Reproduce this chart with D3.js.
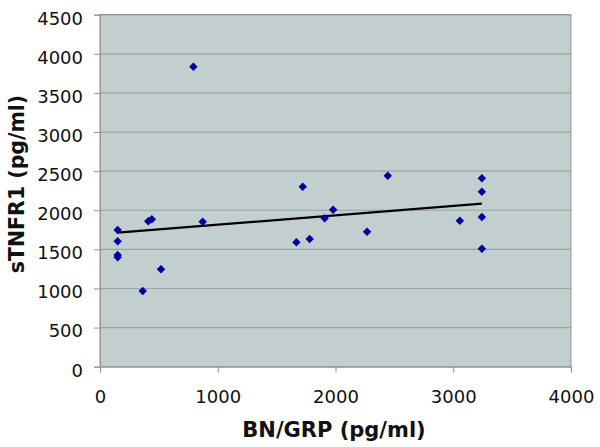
<!DOCTYPE html>
<html><head><meta charset="utf-8">
<script src="https://cdn.jsdelivr.net/npm/d3@7"></script>
<style>body{margin:0;background:#fff}svg{display:block}</style>
</head><body>
<svg id="c" width="600" height="447"></svg>
<script>
const xValues = [793, 1722, 2444, 150, 150, 150, 150, 410, 440, 518, 363, 872, 1668, 1781, 1908, 1980, 2268, 3243, 3243, 3056, 3243, 3243];
const yValues = [3835, 2301, 2442, 1748, 1603, 1428, 1399, 1860, 1885, 1245, 968, 1854, 1590, 1633, 1897, 2007, 1726, 2408, 2238, 1867, 1914, 1509];
const xTicks = [0, 1000, 2000, 3000, 4000];
const yTicks = [0, 500, 1000, 1500, 2000, 2500, 3000, 3500, 4000, 4500];
const xTitle = "BN/GRP (pg/ml)";
const yTitle = "sTNFR1 (pg/ml)";

const svg = d3.select("#c");
const m = {l: 100, r: 571, t: 14.7, b: 366.7};
const x = d3.scaleLinear().domain([0, 4000]).range([m.l, m.r]);
const y = d3.scaleLinear().domain([0, 4500]).range([m.b, m.t]);
const font = "'DejaVu Sans', Verdana, sans-serif";

svg.append("rect").attr("x", m.l).attr("y", m.t).attr("width", m.r - m.l).attr("height", m.b - m.t)
  .attr("fill", "#c3cfcf");

svg.append("g").selectAll("line").data(yTicks.filter(d => d > 0)).join("line")
  .attr("x1", m.l).attr("x2", m.r).attr("y1", d => y(d)).attr("y2", d => y(d))
  .attr("stroke", "#98a3a2").attr("stroke-width", 1.2);

svg.append("rect").attr("x", m.l).attr("y", m.t).attr("width", m.r - m.l).attr("height", m.b - m.t)
  .attr("fill", "none").attr("stroke", "#8c9696").attr("stroke-width", 1);

const xa = svg.append("g").attr("transform", `translate(0,${m.b})`)
  .call(d3.axisBottom(x).tickValues(xTicks).tickSize(6).tickPadding(18).tickFormat(d3.format("d")));
const ya = svg.append("g").attr("transform", `translate(${m.l},0)`)
  .call(d3.axisLeft(y).tickValues(yTicks).tickSize(6).tickPadding(11).tickFormat(d3.format("d")));
[xa, ya].forEach(a => {
  a.select(".domain").attr("stroke", "#8c9696");
  a.selectAll(".tick line").attr("stroke", "#8c9696");
  a.selectAll("text").attr("font-family", font).attr("font-size", 18).attr("fill", "#111");
});
ya.selectAll("text").attr("dy", "0.52em");

// regression
const n = xValues.length;
const mx = d3.mean(xValues), my = d3.mean(yValues);
let sxy = 0, sxx = 0;
for (let i = 0; i < n; i++) { sxy += (xValues[i]-mx)*(yValues[i]-my); sxx += (xValues[i]-mx)**2; }
const slope = sxy / sxx, icpt = my - slope * mx;
const x0 = d3.min(xValues), x1 = d3.max(xValues);
svg.append("line").attr("x1", x(x0)).attr("x2", x(x1))
  .attr("y1", y(icpt + slope*x0)).attr("y2", y(icpt + slope*x1))
  .attr("stroke", "#000").attr("stroke-width", 2.2);

svg.append("g").selectAll("path").data(xValues.map((v,i)=>[v,yValues[i]])).join("path")
  .attr("transform", d => `translate(${x(d[0])},${y(d[1])}) rotate(45)`)
  .attr("d", d3.symbol().type(d3.symbolSquare).size(36))
  .attr("fill", "#0000a0");

svg.append("text").attr("x", 334).attr("y", 436.5).attr("text-anchor", "middle")
  .attr("font-family", font).attr("font-weight", "bold").attr("font-size", 21).attr("fill", "#111").text(xTitle);
svg.append("text").attr("transform", `translate(24,184) rotate(-90)`).attr("text-anchor", "middle")
  .attr("font-family", font).attr("font-weight", "bold").attr("font-size", 20.5).attr("fill", "#111").text(yTitle);
</script>
</body></html>
